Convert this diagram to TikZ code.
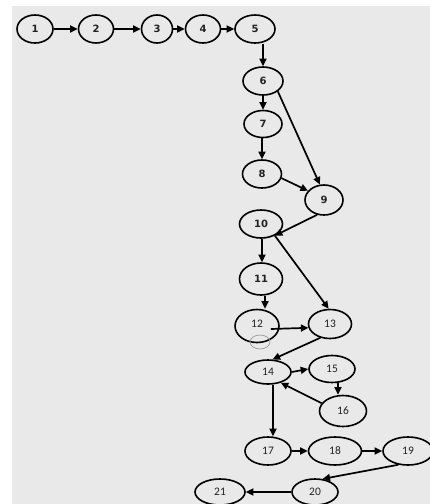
\documentclass[tikz,border=0pt]{standalone}
\usepackage{fontspec}
\setmainfont{DejaVu Sans}
\newfontfamily\lowfont{Carlito}
\usetikzlibrary{shapes.geometric, arrows.meta}
\definecolor{bgcol}{HTML}{E9E9E9}
\definecolor{txt}{HTML}{222222}
\begin{document}
\begin{tikzpicture}[x=1pt,y=-1pt,
  st/.style={ellipse, draw=black, line width=1.6pt, inner sep=0pt, text=txt},
  up/.style={st, font=\bfseries\fontsize{10}{11}\selectfont},
  lo/.style={st, font=\lowfont\fontsize{11.5}{12}\selectfont},
  sz/.style 2 args={minimum width=#1pt, minimum height=#2pt},
  ar/.style={line width=1.7pt, -{Triangle[length=7.5pt,width=7pt]}},
  small/.style={ellipse, draw=gray!80, line width=0.7pt, inner sep=0pt}]
\useasboundingbox (0,0) rectangle (430,504);
\fill[bgcol] (12,6) rectangle (430,504);
% upper nodes
\node[up, sz={36}{28}] (n1) at (35,29) {1};
\node[up, sz={35}{28}] (n2) at (96,29) {2};
\node[up, sz={31}{28}] (n3) at (157,29) {3};
\node[up, sz={35}{28}] (n4) at (203,29) {4};
\node[up, sz={40}{28}] (n5) at (255,29) {5};
\node[up, sz={40}{28}] (n6) at (263,81) {6};
\node[up, sz={38}{27}] (n7) at (263,124) {7};
\node[up, sz={39}{28}] (n8) at (262,174) {8};
\node[up, sz={38}{30}] (n9) at (324,200) {9};
\node[up, sz={43}{28}] (n10) at (261,224) {10};
\node[up, sz={43}{32}] (n11) at (261,279) {11};
% lower nodes
\node[lo, sz={44}{33}] (n12) at (257,326) {\raisebox{4pt}{12}};
\node[small, minimum width=20pt, minimum height=14pt] (n12b) at (260,342) {};
\node[lo, sz={43}{29}] (n13) at (330,324) {13};
\node[lo, sz={46}{24}] (n14) at (268,372) {14};
\node[lo, sz={46}{27}] (n15) at (332,369) {15};
\node[lo, sz={47}{31}] (n16) at (343,411) {16};
\node[lo, sz={46}{28}] (n17) at (268,451) {17};
\node[lo, sz={53}{28}] (n18) at (335,451) {18};
\node[lo, sz={50}{28}] (n19) at (408,451) {19};
\node[lo, sz={46}{26}] (n20) at (315,492) {20};
\node[lo, sz={50}{26}] (n21) at (220,492) {21};
% connectors
\draw[ar] (n1) -- (n2);
\draw[ar] (n2) -- (n3);
\draw[ar] (n3) -- (n4);
\draw[ar] (n4) -- (n5);
\draw[ar] (n6 |- n5.south) -- (n6.north);
\draw[ar] (n6.south) -- (n7.north);
\draw[ar] (n6.-35) -- (n9.105);
\draw[ar] (n8 |- n7.south) -- (n8.north);
\draw[ar] (n8.-12) -- (n9.150);
\draw[ar] (n9.245) -- (n10.-40);
\draw[ar] ([xshift=1pt]n10.south) -- ([xshift=1pt]n11.north);
\draw[ar] (n10.-40) -- (n13.95);
\draw[ar] ([xshift=4pt]n11.south) -- ([xshift=8pt]n12.north);
\draw[ar] ([shift={(-9,3)}]n12.east) -- (n13.190);
\draw[ar] (n13.235) -- (n14.70);
\draw[ar] (n14.east) -- (n15.west);
\draw[ar] ([xshift=6pt]n15.south) -- ([xshift=-5pt]n16.north);
\draw[ar] (n16.160) -- (n14.-40);
\draw[ar] ([xshift=5pt]n14.south) -- ([xshift=5pt]n17.north);
\draw[ar] (n17.east) -- (n18.west);
\draw[ar] (n18.east) -- (n19.west);
\draw[ar] (n19.235) -- (n20.60);
\draw[ar] (n20.west) -- (n21.east);
\end{tikzpicture}
\end{document}
